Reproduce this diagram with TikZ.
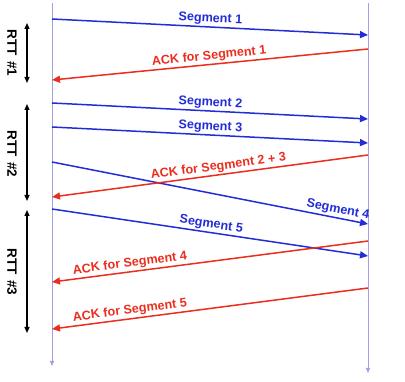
\documentclass[tikz,border=0pt]{standalone}
\usepackage{fontspec}
\setmainfont{Liberation Sans}
\usetikzlibrary{arrows.meta}
\definecolor{segblue}{RGB}{35,45,215}
\definecolor{ackred}{RGB}{235,45,30}
\definecolor{tlcol}{RGB}{160,160,230}
\begin{document}
\begin{tikzpicture}[x=1pt,y=-1pt,
 msg/.style={line width=1.5pt,-{Triangle[length=8pt,width=7pt]}},
 seg/.style={msg,segblue},
 ack/.style={msg,ackred},
 lbl/.style={font=\bfseries\fontsize{12.6}{14}\selectfont,sloped,above,inner sep=1.5pt},
 timeline/.style={tlcol,line width=0.8pt,-{Triangle[length=5pt,width=4pt]}},
 rtt/.style={line width=1.3pt,{Triangle[length=6pt,width=5pt]}-{Triangle[length=6pt,width=5pt]}},
 rttlbl/.style={font=\bfseries\fontsize{13.5}{15}\selectfont,rotate=-90}]
\useasboundingbox (0,0) rectangle (405,382);
% timelines
\coordinate (LT) at (52,3); \coordinate (LB) at (52,366);
\coordinate (RT) at (368,3); \coordinate (RB) at (368,373);
\draw[timeline] (LT) -- (LB);
\draw[timeline] (RT) -- (RB);
% endpoints
\coordinate (s1a) at (52,19);  \coordinate (s1b) at (368,35);
\coordinate (a1a) at (368,49); \coordinate (a1b) at (52,80);
\coordinate (s2a) at (52,103); \coordinate (s2b) at (368,119);
\coordinate (s3a) at (52,127); \coordinate (s3b) at (368,143);
\coordinate (a2a) at (368,155); \coordinate (a2b) at (52,197);
\coordinate (s4a) at (52,162); \coordinate (s4b) at (368,224);
\coordinate (s5a) at (52,209); \coordinate (s5b) at (368,256);
\coordinate (a4a) at (368,241); \coordinate (a4b) at (52,282);
\coordinate (a5a) at (368,288); \coordinate (a5b) at (52,329);
% messages
\draw[seg] (s1a) -- node[lbl,pos=0.5] (l1) {Segment 1} (s1b);
\draw[ack] (a1a) -- node[lbl,pos=0.5] (l2) {ACK for Segment 1} (a1b);
\draw[seg] (s2a) -- node[lbl,pos=0.5] (l3) {Segment 2} (s2b);
\draw[seg] (s3a) -- node[lbl,pos=0.5] (l4) {Segment 3} (s3b);
\draw[seg] (s4a) -- node[lbl,pos=0.9] (l6) {Segment 4} (s4b);
\draw[ack] (a2a) -- node[lbl,pos=0.47] (l5) {ACK for Segment 2 + 3} (a2b);
\draw[seg] (s5a) -- node[lbl,pos=0.5] (l7) {Segment 5} (s5b);
\draw[ack] (a4a) -- node[lbl,pos=0.75] (l8) {ACK for Segment 4} (a4b);
\draw[ack] (a5a) -- node[lbl,pos=0.75] (l9) {ACK for Segment 5} (a5b);
% RTT
\coordinate (r1a) at (27,23);  \coordinate (r1b) at (27,83);
\coordinate (r2a) at (27,104); \coordinate (r2b) at (27,201);
\coordinate (r3a) at (27,210); \coordinate (r3b) at (27,333);
\draw[rtt] (r1a) -- (r1b);
\draw[rtt] (r2a) -- (r2b);
\draw[rtt] (r3a) -- (r3b);
\node[rttlbl] (t1) at (12,53) {RTT\hspace{5pt}\#1};
\node[rttlbl] (t2) at (12,154) {RTT\hspace{5pt}\#2};
\node[rttlbl] (t3) at (12,272) {RTT\hspace{5pt}\#3};
\end{tikzpicture}
\end{document}
